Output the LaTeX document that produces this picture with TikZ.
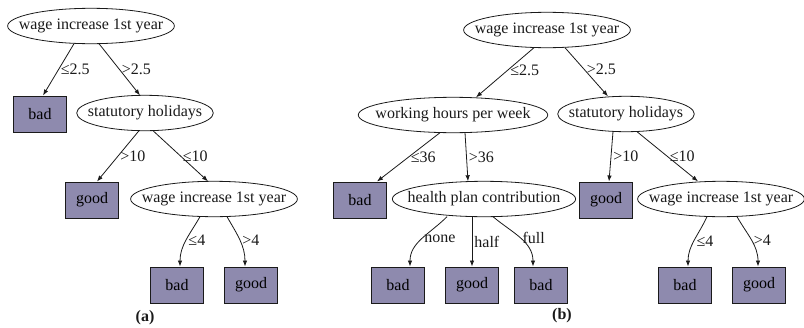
\documentclass[tikz,border=0pt]{standalone}
\usepackage{fontspec}
\setmainfont{Liberation Serif}
\usepackage{xcolor}
\usepackage{tikz}
\usetikzlibrary{arrows.meta,calc,positioning}
\definecolor{ink}{HTML}{1A1A1A}
\definecolor{leafgray}{HTML}{8E8AAE}
\tikzset{
  >={Latex[length=6pt,width=4.5pt]},
  branch/.style={->,line width=.8pt,draw=ink},
  split/.style={font=\fontsize{16}{19}\selectfont,inner xsep=11pt,minimum height=35pt,text=ink},
  leaf/.style={draw=ink,line width=1pt,fill=leafgray,font=\fontsize{16}{19}\selectfont,
               minimum width=53pt,minimum height=36pt,inner sep=0pt,text=black},
  lbl/.style={font=\fontsize{16}{19}\selectfont,inner sep=2pt,text=ink},
  caption/.style={font=\fontsize{16}{19}\selectfont\bfseries,text=ink}
}
\begin{document}
\begin{tikzpicture}[x=1pt,y=1pt]
  \useasboundingbox (0,-327) rectangle (804,0);
  % tree (a)
  \node[split] (a1) at (91,-26) {wage increase 1st year};
  \node[leaf] (a2) at (40,-114) {bad};
  \node[split] (a3) at (145,-113) {statutory holidays};
  \node[leaf] (a4) at (92,-200) {good};
  \node[split] (a5) at (214,-199) {wage increase 1st year};
  \node[leaf] (a6) at (177,-285) {bad};
  \node[leaf] (a7) at (251,-285) {good};
  \node[caption] (capa) at (145,-318) {(a)};
  % tree (b)
  \node[split] (b1) at (547,-30) {wage increase 1st year};
  \node[split,inner xsep=17pt] (b2) at (453,-115) {working hours per week};
  \node[split] (b3) at (626,-114) {statutory holidays};
  \node[leaf] (b4) at (360,-200) {bad};
  \node[split,inner xsep=15pt] (b5) at (484,-199) {health plan contribution};
  \node[leaf] (b6) at (606,-200) {good};
  \node[split] (b7) at (721,-199) {wage increase 1st year};
  \node[leaf] (b8) at (398,-285) {bad};
  \node[leaf] (b9) at (472,-285) {good};
  \node[leaf] (b10) at (541,-285) {bad};
  \node[leaf] (b11) at (685,-285) {bad};
  \node[leaf] (b12) at (759,-285) {good};
  \node[caption] (capb) at (562,-316) {(b)};
  \foreach \t in {a1,a3,a5,b1,b2,b3,b5,b7}
    \draw[ink,line width=.8pt] let \p1=($(\t.north east)-(\t.center)$) in (\t.center) ellipse [x radius=\x1,y radius=\y1];
  % branches of (a)
  \draw[branch] ([xshift=-17pt]a1.south) -- node[lbl,right] {≤2.5} ([xshift=3pt]a2.north);
  \draw[branch] ([xshift=8pt]a1.south) -- node[lbl,right] {>2.5} ([xshift=-5pt]a3.north);
  \draw[branch] ([xshift=-6pt]a3.south) -- node[lbl,right] {>10} ([xshift=5pt]a4.north);
  \draw[branch] ([xshift=8pt]a3.south) -- node[lbl,right] {≤10} ([xshift=-6pt]a5.north);
  \draw[branch] ([xshift=-14pt]a5.south) to[out=240,in=90] node[lbl,right] {≤4} ([xshift=3pt]a6.north);
  \draw[branch] ([xshift=13pt]a5.south) to[out=-60,in=90] node[lbl,right] {>4} ([xshift=-6pt]a7.north);
  % branches of (b)
  \draw[branch] ([xshift=-13pt]b1.south) -- node[lbl,right,pos=.45] {≤2.5} ([xshift=23pt]b2.north);
  \draw[branch] ([xshift=18pt]b1.south) -- node[lbl,right,pos=.45] {>2.5} ([xshift=-18pt]b3.north);
  \draw[branch] ([xshift=-13pt]b2.south) -- node[lbl,right] {≤36} ([xshift=17pt]b4.north);
  \draw[branch] ([xshift=12pt]b2.south) -- node[lbl,right] {>36} ([xshift=-16pt]b5.north);
  \draw[branch] ([xshift=-13pt]b3.south) -- node[lbl,right] {>10} ([xshift=3pt]b6.north);
  \draw[branch] ([xshift=11pt]b3.south) -- node[lbl,right] {≤10} ([xshift=-23pt]b7.north);
  \draw[branch] ([xshift=-37pt]b5.south) to[out=225,in=90] node[lbl,right] {none} ([xshift=12pt]b8.north);
  \draw[branch] (b5.south -| b9.north) -- node[lbl,right] {half} (b9.north);
  \draw[branch] ([xshift=9pt]b5.south) to[out=-40,in=90] node[lbl,right] {full} ([xshift=-8pt]b10.north);
  \draw[branch] ([xshift=-14pt]b7.south) to[out=245,in=90] node[lbl,right] {≤4} ([xshift=3pt]b11.north);
  \draw[branch] ([xshift=16pt]b7.south) to[out=-60,in=90] node[lbl,right] {>4} ([xshift=-1pt]b12.north);
\end{tikzpicture}
\end{document}
